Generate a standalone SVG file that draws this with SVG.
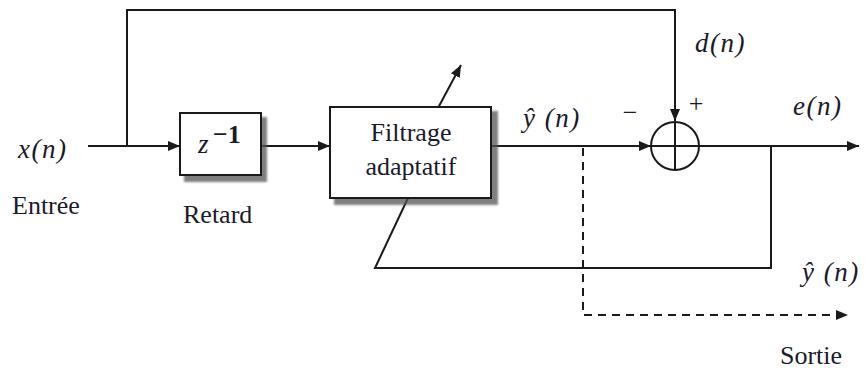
<svg xmlns="http://www.w3.org/2000/svg" width="867" height="370" viewBox="0 0 867 370">
<style>
.ln{fill:none;stroke:#1a1a1a;stroke-width:2}
.dash{fill:none;stroke:#1a1a1a;stroke-width:2;stroke-dasharray:8 6}
.box{fill:#fff;stroke:#1a1a1a;stroke-width:2}
.shd{fill:#555;opacity:0.75}
.t{font-family:"Liberation Serif","Times New Roman",serif;font-size:26px;fill:#1a1a2a}
.m{font-family:"Liberation Serif","Times New Roman",serif;font-style:italic;font-size:27px;letter-spacing:1.5px;fill:#1a1a2a}
.mu{font-family:"Liberation Serif","Times New Roman",serif;font-size:26px;fill:#1a1a2a}
</style>
<defs>
<marker id="ah" viewBox="0 0 12 10" refX="12" refY="5" markerWidth="12" markerHeight="10" markerUnits="userSpaceOnUse" orient="auto">
<path d="M0,0 L12,5 L0,10 Z" fill="#1a1a1a"/>
</marker>
<filter id="bl" x="-10%" y="-10%" width="130%" height="130%"><feGaussianBlur stdDeviation="1"/></filter>
</defs>
<g id="connectors">
<path class="ln" d="M88,146 H180" marker-end="url(#ah)"/>
<path class="ln" d="M127,146 V10 H675 V121" marker-end="url(#ah)"/>
<path class="ln" d="M262,146 H330" marker-end="url(#ah)"/>
<path class="ln" d="M492,146 H651" marker-end="url(#ah)"/>
<path class="ln" d="M699,146 H859" marker-end="url(#ah)"/>
<path class="ln" d="M771,146 V268 H375 L408,198"/>
<path class="ln" d="M438,108 L461,65" marker-end="url(#ah)"/>
<path class="dash" d="M583,148 V315 H848" marker-end="url(#ah)"/>
</g>
<g id="delay">
<rect class="shd" x="184" y="117" width="83" height="65" filter="url(#bl)"/>
<rect class="box" x="180" y="113" width="81" height="62"/>
<text class="m" x="198" y="153">z</text>
<text class="mu" x="213" y="143" font-size="20" font-weight="bold">−1</text>
</g>
<g id="filter">
<rect class="shd" x="334" y="111" width="164" height="94" filter="url(#bl)"/>
<rect class="box" x="330" y="107" width="161" height="91"/>
<text class="t" x="411" y="141" text-anchor="middle" font-size="27">Filtrage</text>
<text class="t" x="411" y="175" text-anchor="middle" font-size="27">adaptatif</text>
</g>
<g id="sum">
<circle class="ln" cx="675" cy="146" r="24" fill="#fff"/>
<path class="ln" d="M651,146 H699 M675,122 V170"/>
<text class="mu" x="630" y="121" text-anchor="middle">−</text>
<text class="mu" x="696" y="112" text-anchor="middle">+</text>
</g>
<g id="labels">
<text class="m" x="18" y="158">x(n)</text>
<text class="t" x="12" y="214">Entrée</text>
<text class="t" x="183" y="223">Retard</text>
<text class="m" x="695" y="52">d(n)</text>
<text class="m" x="793" y="115">e(n)</text>
<text class="m" x="523" y="127">ŷ (n)</text>
<text class="m" x="802" y="281">ŷ (n)</text>
<text class="t" x="780" y="364">Sortie</text>
</g>
</svg>
